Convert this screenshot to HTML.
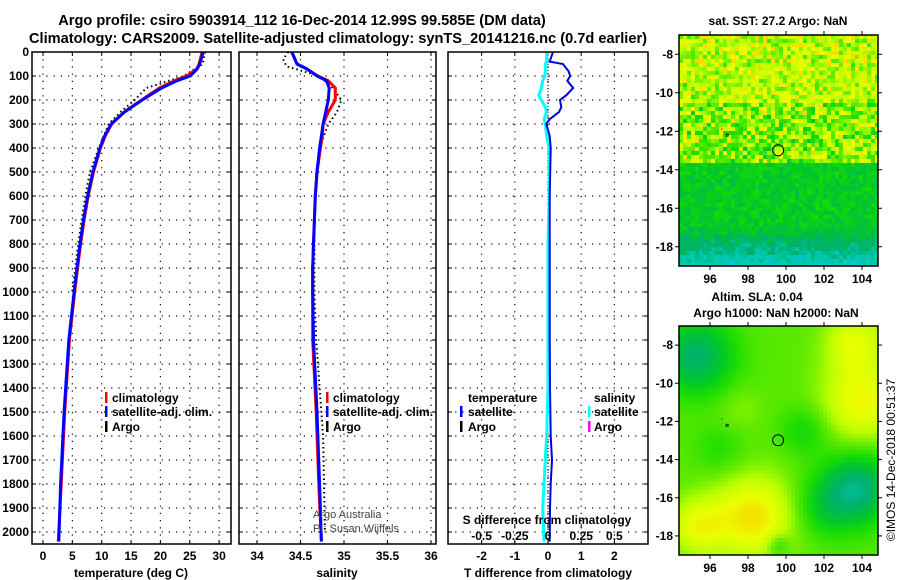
<!DOCTYPE html>
<html><head><meta charset="utf-8"><style>
html,body{margin:0;padding:0;background:#fff;}
svg{display:block;font-family:"Liberation Sans",Arial,sans-serif;font-weight:bold;}
</style></head><body>
<svg id="c" width="900" height="580" viewBox="0 0 900 580"></svg>
<script>
// ---- data ----
const depths      = [0,50,70,100,120,150,200,250,300,350,400,500,600,700,800,900,1000,1200,1500,1800,2040];
const tempClim    = [27.1,26.6,26.2,24.5,22.4,19.8,16.8,13.8,11.7,10.6,9.8,8.6,7.7,7.0,6.4,5.9,5.4,4.5,3.7,3.1,2.6];
const tempSat     = [27.3,26.7,26.3,25.1,22.8,20.2,16.9,13.9,11.6,10.5,9.7,8.5,7.6,6.9,6.3,5.8,5.3,4.4,3.6,3.0,2.7];
const argoDepths  = [0,50,100,150,200,250,300,400,500,600,700,800,900,1000];
const tempArgo    = [27.6,27.2,24.0,17.6,15.6,13.2,11.2,9.5,8.0,7.2,6.6,6.0,5.5,5.0];
const salClim     = [34.40,34.46,34.57,34.70,34.82,34.90,34.90,34.82,34.76,34.75,34.73,34.69,34.67,34.66,34.65,34.64,34.64,34.64,34.68,34.71,34.74];
const salSat      = [34.40,34.46,34.57,34.69,34.80,34.83,34.82,34.79,34.76,34.74,34.72,34.69,34.67,34.66,34.65,34.64,34.64,34.65,34.69,34.72,34.74];
const salArgoDepths = [0,30,60,100,150,200,250,300,400,500,600,800,1000,1200,1400,1600,1800,2000];
const salArgo     = [34.36,34.30,34.34,34.72,34.87,34.97,34.92,34.82,34.72,34.68,34.67,34.66,34.66,34.68,34.72,34.76,34.77,34.78];
const diffDepths  = [0,40,50,80,100,120,150,180,200,230,250,280,300,350,400,600,800,1000,1200,1400,1600,1700,1800,1900,2040];
const tDiffSat    = [0.15,0.05,0.45,0.62,0.67,0.58,0.76,0.55,0.36,0.40,0.33,0.05,-0.05,0.05,0.08,0.05,0.05,0.05,0.05,0.06,0.08,0.12,0.08,0.06,0.05];
const sDiffSat    = [-0.01,-0.01,-0.02,-0.02,-0.025,-0.04,-0.05,-0.07,-0.05,-0.02,-0.01,-0.03,-0.02,-0.01,0.01,0.01,0.0,0.0,0.0,0.0,-0.01,-0.02,-0.03,-0.04,-0.03];
const depthTicks  = [0,100,200,300,400,500,600,700,800,900,1000,1100,1200,1300,1400,1500,1600,1700,1800,1900,2000];
const tempTicks   = [0,5,10,15,20,25,30];
const salTicks    = [34,34.5,35,35.5,36];
const tDiffTicks  = [-2,-1,0,1,2];
const sDiffTicks  = [-0.5,-0.25,0,0.25,0.5];
const lonTicks    = [96,98,100,102,104];
const latTicks    = [-8,-10,-12,-14,-16,-18];

// ---- scales ----
const Y = d => 52 + d*0.24;
const XT = t => 43 + t*5.87;
const XS = s => 257 + (s-34)*87;
const XD = t => 548 + t*33.2;
const XSD = s => 548 + s*132.8;
const NS="http://www.w3.org/2000/svg";
const svg=document.getElementById('c');
function el(tag,attrs,parent){const e=document.createElementNS(NS,tag);for(const k in attrs)e.setAttribute(k,attrs[k]);(parent||svg).appendChild(e);return e;}
function txt(x,y,s,anchor,size,parent,extra){const t=el('text',Object.assign({x:x,y:y,'text-anchor':anchor||'start','font-size':size||12},extra||{}),parent);t.textContent=s;return t;}

let t;
t=txt(302,25,'Argo profile: csiro 5903914_112 16-Dec-2014 12.99S 99.585E (DM data)','middle',14.6);


t=txt(338,43,'Climatology: CARS2009. Satellite-adjusted climatology: synTS_20141216.nc (0.7d earlier)','middle',14.6);



const panels=[{x0:32,x1:231,name:'temperature-panel'},{x0:239,x1:436,name:'salinity-panel'},{x0:448,x1:648,name:'difference-panel'}];
const pg=[];
panels.forEach((p,i)=>{
  const g=el('g',{});
  
  
  pg.push(g);
  depthTicks.forEach(d=>{ if(d>0) el('line',{x1:p.x0,x2:p.x1,y1:Y(d),y2:Y(d),stroke:'#000','stroke-width':1.2,'stroke-dasharray':'1.2,6'},g);
    el('line',{x1:p.x0,x2:p.x0+4,y1:Y(d),y2:Y(d),stroke:'#000'},g);
    el('line',{x1:p.x1-4,x2:p.x1,y1:Y(d),y2:Y(d),stroke:'#000'},g);});
});
function vgrid(g,xs,labels,ly){xs.forEach((x,i)=>{el('line',{x1:x,x2:x,y1:52,y2:544,stroke:'#000','stroke-width':1.2,'stroke-dasharray':'1.2,6'},g);
  el('line',{x1:x,x2:x,y1:540,y2:544,stroke:'#000'},g);
  el('line',{x1:x,x2:x,y1:52,y2:56,stroke:'#000'},g);
  if(labels){const tt=txt(x,ly,labels[i],'middle',12,g);}});}
vgrid(pg[0],tempTicks.map(XT),tempTicks.map(String),560);
vgrid(pg[1],salTicks.map(XS),salTicks.map(String),560);
vgrid(pg[2],tDiffTicks.map(XD),tDiffTicks.map(String),560);
depthTicks.forEach(d=>{const tt=txt(29,Y(d)+4,String(d),'end',12);});
[[131,'temperature (deg C)'],[337,'salinity'],[548,'T difference from climatology']].forEach(a=>{const tt=txt(a[0],577,a[1],'middle',12);});

function line(g,xs,ys,col,w,dash,name){let d='';xs.forEach((x,i)=>{d+=(i?'L':'M')+x.toFixed(1)+' '+ys[i].toFixed(1);});
  const p=el('path',{d:d,fill:'none',stroke:col,'stroke-width':w},g);if(dash)p.setAttribute('stroke-dasharray',dash);
  
  return p;}
line(pg[0],argoDepths.map((d,i)=>XT(tempArgo[i])),argoDepths.map(Y),'#000',2,'1.5,3','argo-temperature-line');
line(pg[0],depths.map((d,i)=>XT(tempClim[i])),depths.map(Y),'#f00',3,null,'climatology-temperature-line');
line(pg[0],depths.map((d,i)=>XT(tempSat[i])),depths.map(Y),'#00f',3,null,'satellite-temperature-line');
line(pg[1],salArgoDepths.map((d,i)=>XS(salArgo[i])),salArgoDepths.map(Y),'#000',2,'1.5,3','argo-salinity-line');
line(pg[1],depths.map((d,i)=>XS(salClim[i])),depths.map(Y),'#f00',3,null,'climatology-salinity-line');
line(pg[1],depths.map((d,i)=>XS(salSat[i])),depths.map(Y),'#00f',3,null,'satellite-salinity-line');
el('line',{x1:XD(0),x2:XD(0),y1:52,y2:544,stroke:'#000','stroke-dasharray':'1,2'},pg[2]);
line(pg[2],diffDepths.map((d,i)=>XSD(sDiffSat[i])),diffDepths.map(Y),'#00ffff',3,null,'salinity-difference-line');
line(pg[2],diffDepths.map((d,i)=>XD(tDiffSat[i])),diffDepths.map(Y),'#0000dd',2,null,'temperature-difference-line');
sDiffTicks.forEach(s=>{el('line',{x1:XSD(s),x2:XSD(s),y1:524,y2:528,stroke:'#000'},pg[2]);
  const tt=txt(XSD(s),540,String(s),'middle',12,pg[2]);
  });
t=txt(547,524,'S difference from climatology','middle',12,pg[2]);

panels.forEach((p,i)=>el('rect',{x:p.x0,y:52,width:p.x1-p.x0,height:492,fill:'none',stroke:'#000','stroke-width':1.5},pg[i]));

function legItem(g,mx,tx,y,col,label){const lg=el('g',{},g);
  el('rect',{x:mx,y:y-10,width:2.5,height:11,fill:col},lg);if(label)txt(tx,y,label,'start',12,lg);}
[[pg[0],105,112],[pg[1],326,333]].forEach(a=>{legItem(a[0],a[1],a[2],402,'#f00','climatology');legItem(a[0],a[1],a[2],416,'#00f','satellite-adj. clim.');legItem(a[0],a[1],a[2],431,'#000','Argo');});
t=txt(468,402,'temperature','start',12,pg[2]);
legItem(pg[2],460,468,416,'#00f','satellite');legItem(pg[2],460,468,431,'#000','Argo');
t=txt(594,402,'salinity','start',12,pg[2]);
legItem(pg[2],588,594,416,'#00ffff','satellite');legItem(pg[2],588,594,431,'#ff00ff','Argo');
t=txt(313,518,'Argo Australia','start',11,pg[1],{'font-weight':'normal',fill:'#444'});
t=txt(313,532,'PI: Susan Wijffels','start',11,pg[1],{'font-weight':'normal',fill:'#444'});

// ---- maps ----
const stops=[[-0.35,[0,205,215]],[-0.15,[0,200,170]],[0,[0,175,110]],[0.2,[0,200,40]],[0.35,[30,222,0]],[0.5,[100,235,0]],[0.65,[190,255,0]],[0.8,[235,255,0]],[1,[255,190,0]]];
function cmap(v){if(v<=stops[0][0])return 'rgb('+stops[0][1]+')';for(let i=1;i<stops.length;i++){if(v<=stops[i][0]){const a=stops[i-1],b=stops[i],f=(v-a[0])/(b[0]-a[0]);return 'rgb('+a[1].map((c,k)=>Math.round(c+(b[1][k]-c)*f)).join(',')+')';}}return 'rgb(255,190,0)';}
function hash(i,j){let h=(i*374761393+j*668265263)>>>0;h=((h^(h>>>13))*1274126177)>>>0;return ((h^(h>>>16))>>>0)/4294967296;}
function drawMap(top,bot,field,name){
  const g=el('g',{});
  const LX=lon=>710+(lon-96)*19, LY=lat=>top+(-7-lat)*((bot-top)/12);
  const cs=4;
  for(let y=top;y<bot;y+=cs)for(let x=679;x<878;x+=cs){
    const lon=96+(x+2-710)/19, lat=-7-(y+2-top)/((bot-top)/12);
    el('rect',{x:x,y:y,width:Math.min(cs,878-x),height:Math.min(cs,bot-y),fill:cmap(field(lon,lat,(x-679)/cs|0,(y-top)/cs|0))},g);}
  el('rect',{x:679,y:top,width:199,height:bot-top,fill:'none',stroke:'#000','stroke-width':1.5},g);
  lonTicks.forEach(l=>{el('line',{x1:LX(l),x2:LX(l),y1:bot,y2:bot+4,stroke:'#000'},g);el('line',{x1:LX(l),x2:LX(l),y1:top-4,y2:top,stroke:'#000'},g);
    const tt=txt(LX(l),bot+17,String(l),'middle',12,g);});
  latTicks.forEach(l=>{el('line',{x1:675,x2:679,y1:LY(l),y2:LY(l),stroke:'#000'},g);el('line',{x1:878,x2:882,y1:LY(l),y2:LY(l),stroke:'#000'},g);
    const tt=txt(673,LY(l)+4,String(l),'end',12,g);});
  const c=el('circle',{cx:LX(99.585),cy:LY(-12.99),r:5.5,fill:'none',stroke:'#000','stroke-width':1},g);
  
  el('rect',{x:LX(96.85),y:LY(-12.15),width:2,height:2,fill:'none',stroke:'#000','stroke-width':0.8},g);
  el('rect',{x:LX(96.6),y:LY(-11.85),width:1,height:1,fill:'#000'},g);
}
drawMap(35,266,(lon,lat,i,j)=>{const n=hash(i,j),n2=hash(i+7,j*3);
  let base,amp;
  if(lat>-10.5){base=0.66;amp=0.28;}
  else if(lat>-13.6){base=0.56;amp=0.38;}
  else if(lat>-17){base=0.22;amp=0.12;}
  else {base=0.2+(lat+17)*0.22;amp=0.14;}
  let v=base+(n-0.5)*amp*2*(0.5+n2*0.5);
  if(lat>-8.5&&n2>0.9)v=0.9;
  return v;},'sst-map');
drawMap(326,555,(lon,lat)=>{
  let v=0.47;
  const blobs=[[95.3,-8.6,1.9,-0.45],[104,-11,2.2,0.35],[103.8,-15.5,1.8,-0.5],[98.3,-17,2.2,0.42],[95.3,-17.5,1.5,0.3],[101,-12.5,1.3,-0.18],[102,-16.5,1.6,-0.22],[96.5,-13.5,1.3,-0.12],[99.6,-18.5,0.6,-0.2],[97.6,-11.3,1.2,0.08],[103.6,-7.8,1.6,0.28]];
  blobs.forEach(b=>{const d2=((lon-b[0])**2+(lat-b[1])**2)/(b[2]*b[2]);v+=b[3]*Math.exp(-d2);});
  return v;},'sla-map');
t=txt(778,25,'sat. SST: 27.2 Argo: NaN','middle',12);
t=txt(757,301,'Altim. SLA: 0.04','middle',12);
t=txt(776,317,'Argo h1000: NaN h2000: NaN','middle',12);
t=txt(0,0,'©IMOS 14-Dec-2018 00:51:37','middle',12,null,{'font-weight':'normal',transform:'translate(895,460) rotate(-90)'});

</script>
</body></html>
